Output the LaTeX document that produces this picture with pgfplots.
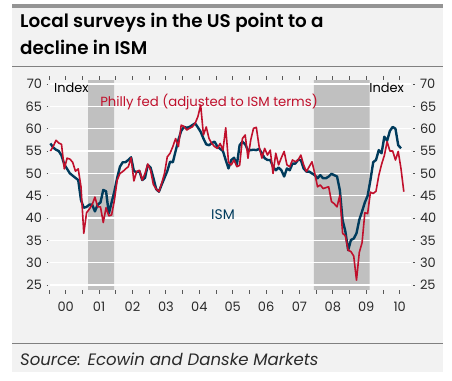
\documentclass[border=0pt]{standalone}
\usepackage{pgfplots}
\pgfplotsset{compat=1.18}
\usepackage{pgfplotstable}
\usepackage{fontspec}
\setmainfont{Poppins}
\newfontfamily\titlefont{Poppins SemiBold}
\definecolor{bg}{HTML}{F2F2F2}
\definecolor{shade}{HTML}{C0C0C0}
\definecolor{ismblue}{HTML}{003B5C}
\definecolor{phred}{HTML}{C0102C}
\definecolor{txt}{HTML}{2A2A2A}

% monthly, Jan 2000 - Aug 2010
\pgfplotstableread{
ism philly
56.7 55.0
55.8 56.0
55.3 57.4
55.0 56.8
54.0 56.5
52.0 51.0
51.0 53.4
50.0 53.2
49.5 52.5
49.0 50.5
48.5 51.0
44.0 47.0
42.3 36.6
42.5 41.2
43.0 42.0
43.0 43.0
41.5 44.7
43.0 42.5
43.5 42.5
46.3 39.0
46.0 42.3
41.0 40.5
43.5 40.7
46.0 44.0
49.0 48.5
51.5 50.0
52.5 50.4
52.5 51.0
53.0 51.5
53.6 53.5
50.5 48.3
50.3 50.4
50.5 50.7
48.5 48.5
49.0 50.0
51.9 52.1
51.3 50.7
49.0 47.5
46.5 46.5
45.9 45.9
47.5 47.8
49.0 50.0
50.5 53.7
52.6 54.5
52.5 56.0
55.0 57.8
57.5 56.0
59.5 60.8
60.4 60.5
60.2 59.7
60.4 60.1
60.8 60.4
61.2 61.2
60.3 62.7
59.3 65.3
57.8 58.6
56.5 60.4
56.3 57.8
56.8 56.7
57.1 56.0
56.0 55.6
55.5 56.7
55.0 55.2
53.0 60.2
51.1 52.5
53.0 51.9
53.5 53.0
51.9 51.5
56.3 51.8
57.1 57.8
56.5 58.6
55.2 53.4
55.2 57.5
55.3 60.1
55.2 60.3
55.5 56.0
54.5 53.4
53.4 55.6
53.0 54.1
53.0 55.2
51.5 50.0
50.7 54.5
51.3 51.9
50.7 53.5
49.3 54.9
51.1 51.9
50.7 51.5
52.2 53.0
52.2 52.6
53.0 53.0
53.0 54.1
51.1 51.9
50.4 50.4
50.4 51.5
50.0 52.6
49.6 50.0
48.9 47.0
49.6 47.4
48.9 46.6
48.9 46.8
49.3 47.0
49.9 43.7
49.6 43.2
49.3 42.5
46.3 45.1
39.5 36.6
37.0 36.0
32.8 32.8
35.1 32.5
35.4 31.5
36.6 26.1
39.6 32.3
41.5 34.5
43.5 41.2
45.0 41.0
48.5 45.8
52.5 45.5
53.0 46.0
55.2 49.5
54.5 52.0
58.2 54.0
57.3 57.1
59.5 55.0
60.4 55.0
60.0 53.0
56.3 54.9
55.6 51.0
nan  45.9
}\data

\begin{document}
\begin{tikzpicture}
\fill[white] (0bp,0bp) rectangle (452bp,381bp);
\fill[bg] (12bp,9bp) rectangle (443bp,373bp);
\fill[black!42] (12bp,373bp) rectangle (443bp,377bp);
\draw[black!50, line width=0.8bp] (12bp,315bp) -- (443bp,315bp);
\draw[black!50, line width=0.8bp] (12bp,38bp) -- (443bp,38bp);
\node[anchor=base west, inner sep=0, text=black] at (20bp,353bp) {\fontsize{18.4}{20}\selectfont\titlefont Local surveys in the US point to a};
\node[anchor=base west, inner sep=0, text=black] at (20bp,326bp) {\fontsize{18.4}{20}\selectfont\titlefont decline in ISM};
\node[anchor=base west, inner sep=0, text=txt] at (20bp,16bp) {\fontsize{16.6}{18}\selectfont\itshape Source: Ecowin and Danske Markets};

\begin{axis}[
  at={(48bp,91bp)}, anchor=south west, scale only axis,
  width=365bp, height=210bp,
  xmin=1999.97, xmax=2010.9, ymin=23.9, ymax=70.9,
  axis line style={draw=none},
  tick align=outside,
  major tick length=4bp,
  xtick={2000,2001,...,2010},
  xticklabels={},
  xtick style={draw=black!65, line width=0.8bp},
  extra x ticks={2000.5,2001.5,2002.5,2003.5,2004.5,2005.5,2006.5,2007.5,2008.5,2009.5,2010.5},
  extra x tick labels={00,01,02,03,04,05,06,07,08,09,10},
  extra x tick style={tick style={draw=none}},
  xticklabel style={font=\fontsize{13}{15}\selectfont, text=txt, yshift=-4bp},
  ytick=\empty,
  clip=false,
]
\addplot[fill=shade, draw=none] coordinates {(2001.17,23.9) (2001.17,70.9) (2001.95,70.9) (2001.95,23.9)} \closedcycle;
\addplot[fill=shade, draw=none] coordinates {(2007.93,23.9) (2007.93,70.9) (2009.6,70.9) (2009.6,23.9)} \closedcycle;
\pgfplotsinvokeforeach{25,30,35,40,45,50,55,60,65,70}{
  \draw[white, line width=1.5bp] (axis cs:2000.02,#1) -- (axis cs:2010.85,#1);
}
\addplot[ismblue, line width=2.4bp, line join=round, unbounded coords=discard] table[x expr=2000+(\coordindex+0.5)/12, y=ism] {\data};
\addplot[phred, line width=1.6bp, line join=round] table[x expr=2000+(\coordindex+0.5)/12, y=philly] {\data};
\node[anchor=base west, inner sep=0, text=black, font=\fontsize{13}{15}\selectfont] at (axis cs:2000.15,68.0) {Index};
\node[anchor=base east, inner sep=0, text=black, font=\fontsize{13}{15}\selectfont] at (axis cs:2010.63,68.0) {Index};
\node[anchor=base west, inner sep=0, text=phred, font=\fontsize{13.3}{15}\selectfont] at (axis cs:2001.53,64.9) {Philly fed (adjusted to ISM terms)};
\node[anchor=base west, inner sep=0, text=ismblue, font=\fontsize{14}{16}\selectfont] at (axis cs:2004.85,39.6) {ISM};
\end{axis}

\begin{axis}[
  at={(48bp,91bp)}, anchor=south west, scale only axis,
  width=365bp, height=210bp,
  xmin=1999.97, xmax=2010.9, ymin=23.9, ymax=70.9,
  axis line style={draw=none},
  tick align=outside, major tick length=1.5bp,
  xtick=\empty,
  ytick={25,30,...,70},
  ytick pos=left, yticklabel pos=left,
  ytick style={draw=black!70, line width=1bp},
  /pgf/number format/assume math mode=true,
  yticklabel style={font=\fontsize{13}{15}\selectfont, text=txt, xshift=-1bp},
]
\end{axis}

\begin{axis}[
  at={(48bp,91bp)}, anchor=south west, scale only axis,
  width=365bp, height=210bp,
  xmin=1999.97, xmax=2010.9, ymin=23.9, ymax=70.9,
  axis line style={draw=none},
  tick align=outside, major tick length=1.5bp,
  xtick=\empty,
  ytick={25,30,...,70},
  ytick pos=right, yticklabel pos=right,
  ytick style={draw=black!70, line width=1bp},
  /pgf/number format/assume math mode=true,
  yticklabel style={font=\fontsize{13}{15}\selectfont, text=txt, xshift=2bp},
]
\end{axis}
\end{tikzpicture}
\end{document}
